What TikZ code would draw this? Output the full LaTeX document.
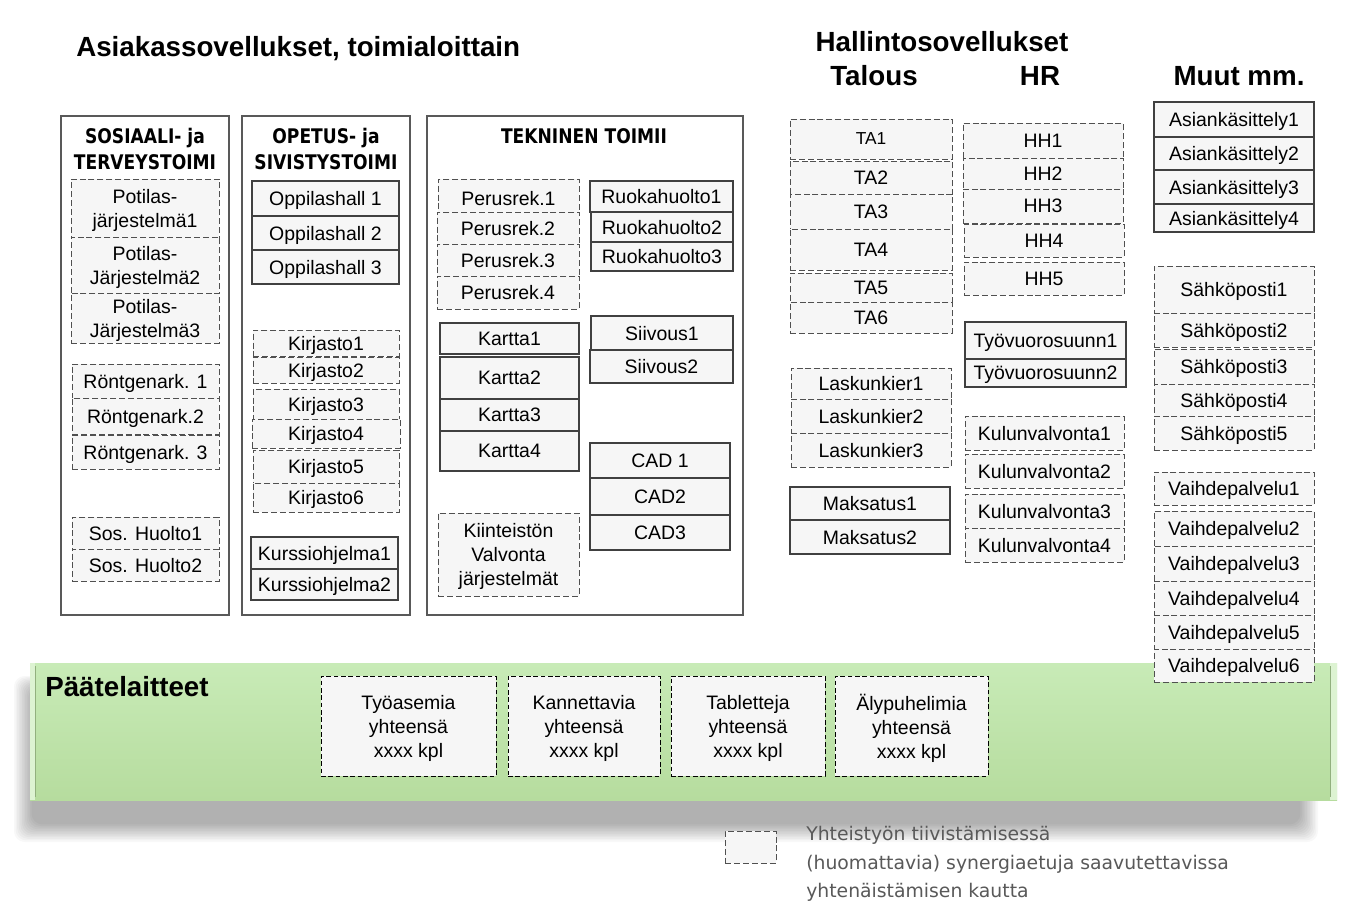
\documentclass[tikz,border=0pt]{standalone}
\usepackage{fontspec}
\usepackage{graphicx}
\setmainfont{Liberation Sans}
\newfontfamily\hdf{DejaVu Sans}
\newfontfamily\lgf{DejaVu Sans}
\definecolor{boxfill}{HTML}{F6F6F6}
\definecolor{boxline}{HTML}{404040}
\definecolor{dline}{HTML}{505050}
\definecolor{bigline}{HTML}{595959}
\definecolor{gtop}{HTML}{C8EBB7}
\definecolor{gbot}{HTML}{B6DC9E}
\definecolor{gedge}{HTML}{DDF3D2}
\definecolor{lgtext}{HTML}{595959}
\newcommand\body{\fontsize{14.6}{18}\selectfont}
\newcommand\hd[1]{\scalebox{0.85}[1]{\hdf\bfseries\fontsize{15.1}{18}\selectfont #1}}
\newcommand\bx[7]{\node[#1, minimum width={(#5-#3)*0.75pt}, minimum height={(#6-#4)*0.75pt}] (#2) at ({(#3+#5)/2},{(#4+#6)/2}) {#7};}
\tikzset{
  big/.style={draw=bigline, line width=1pt, fill=white},
  sbox/.style={draw=boxline, line width=1pt, fill=boxfill, inner sep=0pt, outer sep=0pt, align=center, font=\body, text depth=0pt},
  dbox/.style={sbox, draw=dline, line width=0.75pt, dash pattern=on 4.5pt off 2.2pt},
  devbox/.style={sbox, draw=black, line width=0.75pt, dash pattern=on 3.5pt off 2pt},
  ttl/.style={font=\fontsize{20.8}{25}\selectfont\bfseries, inner sep=0pt},
}
\begin{document}
\begin{tikzpicture}[x=0.75pt,y=-0.75pt]
\useasboundingbox[fill=white] (0,0) rectangle (1365,918);

% titles
\node[ttl, anchor=west] (t1) at (76,49) {Asiakassovellukset, toimialoittain};
\node[ttl] (t2) at (942,42) {Hallintosovellukset};
\node[ttl] (t3) at (874,76) {Talous};
\node[ttl] (t4) at (1040,76) {HR};
\node[ttl] (t5) at (1239,76) {Muut mm.};

% big boxes
\draw[big] (61,116) rectangle (229,615);
\draw[big] (242,116) rectangle (410,615);
\draw[big] (427,116) rectangle (743,615);
\node (h1a) at (145,138) {\hd{SOSIAALI- ja}};
\node (h1b) at (145,162) {\hd{TERVEYSTOIMI}};
\node (h2a) at (326,138) {\hd{OPETUS- ja}};
\node (h2b) at (326,162) {\hd{SIVISTYSTOIMI}};
\node (h3) at (584,136) {\hd{TEKNINEN TOIMII}};

% Sosiaali
\bx{dbox}{p1}{71}{179}{219}{237}{Potilas-\\järjestelmä1}
\bx{dbox}{p2}{71}{237}{219}{293}{Potilas-\\Järjestelmä2}
\bx{dbox}{p3}{71}{293}{219}{343}{Potilas-\\Järjestelmä3}
\bx{dbox}{r1}{72}{364}{219}{398}{Röntgenark. 1}
\bx{dbox}{r2}{72}{398}{219}{434}{Röntgenark.2}
\bx{dbox}{r3}{72}{435}{219}{469}{Röntgenark. 3}
\bx{dbox}{sh1}{72}{517}{219}{549}{Sos. Huolto1}
\bx{dbox}{sh2}{72}{549}{219}{581}{Sos. Huolto2}

% Opetus
\bx{sbox}{o1}{252}{181}{399}{216}{Oppilashall 1}
\bx{sbox}{o2}{252}{216}{399}{250}{Oppilashall 2}
\bx{sbox}{o3}{252}{250}{399}{284}{Oppilashall 3}
\bx{dbox}{k1}{253}{330}{399}{356}{Kirjasto1}
\bx{dbox}{k2}{253}{357}{399}{383}{Kirjasto2}
\bx{dbox}{k3}{253}{389}{399}{419}{Kirjasto3}
\bx{dbox}{k4}{252}{419}{400}{448}{Kirjasto4}
\bx{dbox}{k5}{253}{450}{399}{483}{Kirjasto5}
\bx{dbox}{k6}{253}{483}{399}{512}{Kirjasto6}
\bx{sbox}{ku1}{251}{537}{398}{569}{Kurssiohjelma1}
\bx{sbox}{ku2}{251}{569}{398}{600}{Kurssiohjelma2}

% Tekninen
\bx{dbox, text height=15.6pt}{pr1}{438}{179}{579}{212}{Perusrek.1}
\bx{dbox}{pr2}{437}{212}{579}{244}{Perusrek.2}
\bx{dbox}{pr3}{437}{244}{579}{276}{Perusrek.3}
\bx{dbox}{pr4}{437}{276}{579}{309}{Perusrek.4}
\bx{sbox}{rh1}{590}{181}{733}{212}{Ruokahuolto1}
\bx{sbox}{rh2}{591}{212}{733}{242}{Ruokahuolto2}
\bx{sbox}{rh3}{591}{242}{733}{271}{Ruokahuolto3}
\bx{sbox}{ka1}{440}{323}{579}{354}{Kartta1}
\bx{sbox}{ka2}{440}{357}{579}{399}{Kartta2}
\bx{sbox}{ka3}{440}{399}{579}{431}{Kartta3}
\bx{sbox}{ka4}{440}{431}{579}{471}{Kartta4}
\bx{sbox}{si1}{591}{316}{733}{350}{Siivous1}
\bx{sbox}{si2}{590}{350}{733}{383}{Siivous2}
\bx{sbox}{cad1}{590}{443}{730}{478}{CAD 1}
\bx{sbox}{cad2}{590}{478}{730}{515}{CAD2}
\bx{sbox}{cad3}{590}{515}{730}{550}{CAD3}
\bx{dbox}{ki}{438}{513}{579}{596}{Kiinteistön\\Valvonta\\järjestelmät}

% Talous
\bx{dbox}{ta1}{790}{119}{952}{159}{\fontsize{13}{16}\selectfont TA1}
\bx{dbox}{ta2}{790}{161}{952}{194}{TA2}
\bx{dbox}{ta3}{790}{194}{952}{229}{TA3}
\bx{dbox}{ta4}{790}{229}{952}{270}{TA4}
\bx{dbox}{ta5}{790}{273}{952}{302}{TA5}
\bx{dbox}{ta6}{790}{302}{952}{333}{TA6}
\bx{dbox}{lk1}{791}{368}{951}{399}{Laskunkier1}
\bx{dbox}{lk2}{791}{399}{951}{433}{Laskunkier2}
\bx{dbox}{lk3}{791}{433}{951}{467}{Laskunkier3}
\bx{sbox}{ma1}{790}{487}{950}{520}{Maksatus1}
\bx{sbox}{ma2}{790}{520}{950}{554}{Maksatus2}

% HR
\bx{dbox}{hh1}{963}{123}{1123}{158}{HH1}
\bx{dbox}{hh2}{963}{158}{1123}{189}{HH2}
\bx{dbox}{hh3}{963}{189}{1123}{223}{HH3}
\bx{dbox}{hh4}{964}{224}{1124}{257}{HH4}
\bx{dbox}{hh5}{964}{262}{1124}{295}{HH5}
\bx{sbox}{ty1}{965}{322}{1126}{359}{Työvuorosuunn1}
\bx{sbox}{ty2}{965}{359}{1126}{387}{Työvuorosuunn2}
\bx{dbox}{kv1}{965}{416}{1124}{450}{Kulunvalvonta1}
\bx{dbox}{kv2}{965}{454}{1124}{488}{Kulunvalvonta2}
\bx{dbox}{kv3}{965}{494}{1124}{528}{Kulunvalvonta3}
\bx{dbox}{kv4}{965}{528}{1124}{562}{Kulunvalvonta4}

% Muut
\bx{sbox}{ak1}{1154}{102}{1314}{137}{Asiankäsittely1}
\bx{sbox}{ak2}{1154}{137}{1314}{170}{Asiankäsittely2}
\bx{sbox}{ak3}{1154}{170}{1314}{204}{Asiankäsittely3}
\bx{sbox}{ak4}{1154}{204}{1314}{232}{Asiankäsittely4}
\bx{dbox}{sp1}{1154}{266}{1314}{313}{Sähköposti1}
\bx{dbox}{sp2}{1154}{313}{1314}{347}{Sähköposti2}
\bx{dbox}{sp3}{1154}{349}{1314}{384}{Sähköposti3}
\bx{dbox}{sp4}{1154}{384}{1314}{416}{Sähköposti4}
\bx{dbox}{sp5}{1154}{416}{1314}{450}{Sähköposti5}

% band with shadow
\foreach \i in {0,...,11}{
  \fill[black, opacity=0.028, rounded corners=8pt] ({14+\i*1.6},{676+\i*1.2}) rectangle ({1318-\i*1.6},{842-\i*1.6});
}
\shade[top color=gtop, bottom color=gbot] (30,663) rectangle (1337,800);
\fill[gedge] (30,663) rectangle (35,800);
\fill[gedge] (1330,663) rectangle (1337,800);
\draw[gbot!80!black, line width=0.4pt] (35,666) -- (35,797);
\draw[gbot!80!black, line width=0.4pt] (1330,666) -- (1330,797);
\node[ttl, anchor=west] (pl) at (45,687) {Päätelaitteet};

\bx{dbox}{v1}{1154}{472}{1314}{505}{Vaihdepalvelu1}
\bx{dbox}{v2}{1154}{511}{1314}{546}{Vaihdepalvelu2}
\bx{dbox}{v3}{1154}{546}{1314}{581}{Vaihdepalvelu3}
\bx{dbox}{v4}{1154}{581}{1314}{615}{Vaihdepalvelu4}
\bx{dbox}{v5}{1154}{615}{1314}{649}{Vaihdepalvelu5}
\bx{dbox}{v6}{1154}{649}{1314}{682}{Vaihdepalvelu6}

\bx{devbox}{d1}{321}{676}{496}{776}{Työasemia\\yhteensä\\xxxx kpl}
\bx{devbox}{d2}{508}{676}{660}{776}{Kannettavia\\yhteensä\\xxxx kpl}
\bx{devbox}{d3}{671}{676}{825}{776}{Tabletteja\\yhteensä\\xxxx kpl}
\bx{devbox}{d4}{835}{676}{988}{776}{Älypuhelimia\\yhteensä\\xxxx kpl}

% legend
\bx{dbox}{lg}{725}{831}{776}{863}{}
\node[anchor=west, align=left, inner sep=0pt, text=lgtext, font=\lgf\fontsize{14.1}{21.4}\selectfont] (lgt) at (806,864) {Yhteistyön tiivistämisessä\\(huomattavia) synergiaetuja saavutettavissa\\yhtenäistämisen kautta};
\end{tikzpicture}
\end{document}
